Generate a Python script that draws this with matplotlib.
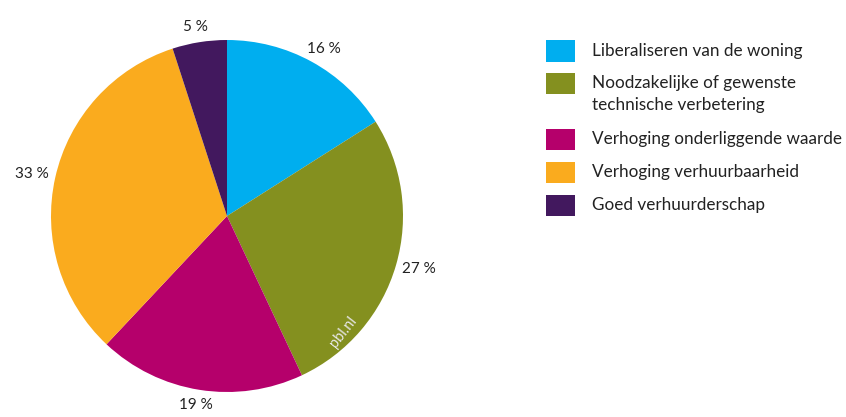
import matplotlib
matplotlib.use("Agg")
import matplotlib.pyplot as plt
import numpy as np
from matplotlib.patches import Rectangle

categories = ["Liberaliseren van de woning",
              "Noodzakelijke of gewenste\ntechnische verbetering",
              "Verhoging onderliggende waarde",
              "Verhoging verhuurbaarheid",
              "Goed verhuurderschap"]
values = [16, 27, 19, 33, 5]
colors = ["#00AEEF", "#84901F", "#B5006B", "#FAAB1E", "#42185E"]

plt.rcParams['font.family'] = ['Lato', 'DejaVu Sans']

W, H = 846, 417
fig = plt.figure(figsize=(W / 100, H / 100), dpi=100)

cx, cy, r = 227, 216, 176
ax = fig.add_axes([(cx - r) / W, (H - cy - r) / H, 2 * r / W, 2 * r / H])
wedges, texts = ax.pie(values, colors=colors, startangle=90, counterclock=False,
                       labels=[f"{v} %" for v in values], labeldistance=1.12,
                       wedgeprops=dict(linewidth=0))
gap, hw, hh = 1.04, 0.097, 0.045
for w, t in zip(wedges, texts):
    ang = np.deg2rad((w.theta1 + w.theta2) / 2)
    c, s = np.cos(ang), np.sin(ang)
    t.set_position((gap * c + hw * c, gap * s + hh * s))
    t.set_ha('center')
    t.set_va('center')
    t.set_fontsize(11)
    t.set_color('#222222')
    t.set_clip_on(False)
ax.set_xlim(-1, 1)
ax.set_ylim(-1, 1)
ax.set_aspect('equal')

ax.text(0.66, -0.66, "pbl.nl", rotation=52, color="#E8E8E8", fontsize=10.5,
        ha='center', va='center')

# legend
centers = [51, 83, 139, 172, 205]
px0, pw, ph = 546, 29, 21
tx = 592
line_h = 22
for cat, col, yc in zip(categories, colors, centers):
    fig.patches.append(Rectangle((px0 / W, (H - yc - ph / 2) / H), pw / W, ph / H,
                                 transform=fig.transFigure, facecolor=col,
                                 edgecolor='none'))
    for k, line in enumerate(cat.split("\n")):
        fig.text(tx / W, (H - yc - k * line_h) / H, line, fontsize=12.3,
                 color='#222222', ha='left', va='center')

fig.savefig("out.png", dpi=100)
